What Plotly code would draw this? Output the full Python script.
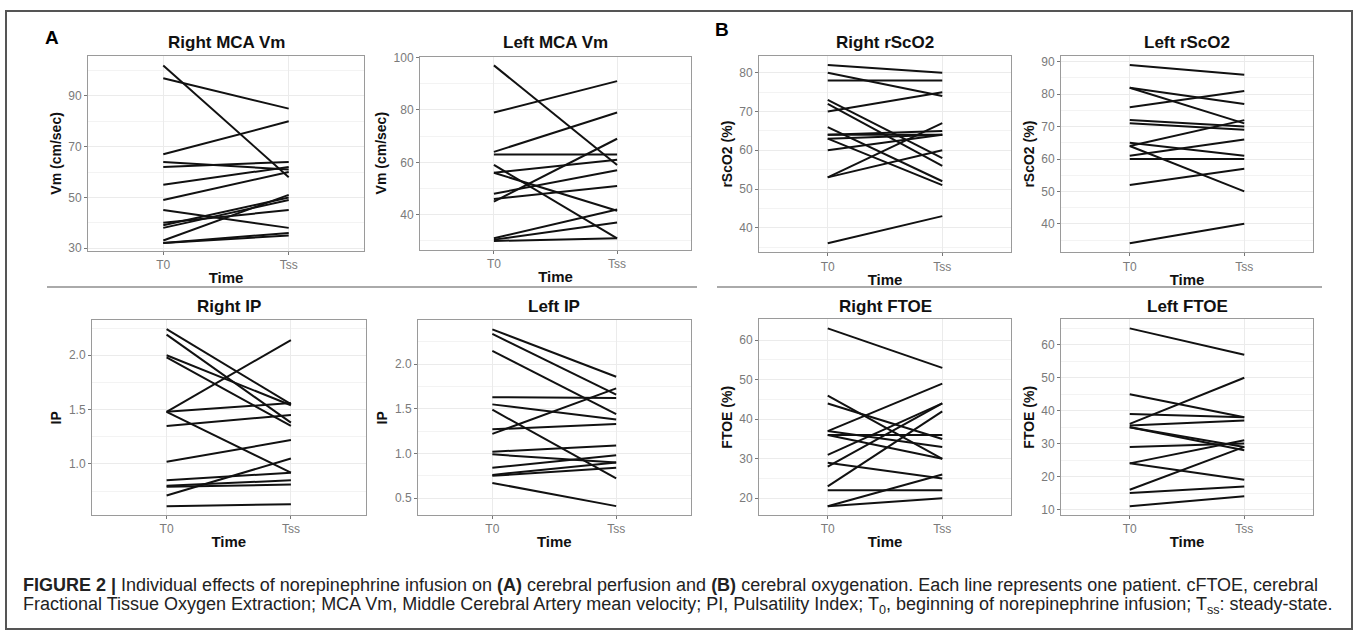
import plotly.graph_objects as go

W, H = 1358, 637

TIME_CATS = ["T0", "Tss"]

# ---- data ----
right_mca_t0 = [102, 97, 67, 64, 62, 55, 49, 45, 40, 39, 38, 33, 32, 32]
right_mca_tss = [58, 85, 80, 61, 64, 62, 60, 38, 45, 50, 49, 51, 36, 35]

left_mca_t0 = [97, 79, 64, 63, 59, 56, 56, 48, 46, 45, 31, 30.5, 30]
left_mca_tss = [59, 91, 79, 63, 31, 61, 41.5, 57, 51, 69, 42, 37, 31]

right_rsco2_t0 = [82, 80, 78, 73, 72, 70, 66, 64, 64, 63, 63, 60, 53, 53, 36]
right_rsco2_tss = [80, 74, 78, 58, 56, 75, 52, 65, 64, 51, 64, 64, 67, 60, 43]

left_rsco2_t0 = [89, 82, 82, 76, 72, 71, 65, 64, 64, 61, 60, 52, 34]
left_rsco2_tss = [86, 77, 71, 81, 70, 69, 61, 72, 50, 66, 60, 57, 40]

right_ip_t0 = [2.24, 2.19, 2.00, 1.98, 1.48, 1.48, 1.48, 1.35, 1.02, 0.85, 0.80, 0.79, 0.71, 0.61]
right_ip_tss = [1.55, 1.38, 1.54, 1.35, 2.14, 1.56, 0.92, 1.45, 1.22, 0.92, 0.85, 0.81, 1.05, 0.63]

left_ip_t0 = [2.39, 2.34, 2.15, 1.63, 1.55, 1.49, 1.27, 1.22, 1.02, 0.99, 0.84, 0.76, 0.75, 0.67]
left_ip_tss = [1.86, 1.66, 1.44, 1.62, 1.38, 0.72, 1.33, 1.73, 1.09, 0.90, 0.98, 0.90, 0.84, 0.41]

right_ftoe_t0 = [63, 46, 44, 37, 37, 36, 36, 31, 29, 28, 23, 22, 18, 18]
right_ftoe_tss = [53, 30, 35, 49, 33, 36, 30, 44, 25, 44, 42, 22, 26, 20]

left_ftoe_t0 = [65, 45, 39, 36, 35.5, 35, 35, 29, 24, 24, 16, 15, 11]
left_ftoe_tss = [57, 38, 38, 50, 37, 28, 29, 30, 31, 19, 29, 17, 14]

titles = ["Right MCA Vm", "Left MCA Vm", "Right rScO2", "Left rScO2",
          "Right IP", "Left IP", "Right FTOE", "Left FTOE"]
ylabels = ["Vm (cm/sec)", "Vm (cm/sec)", "rScO2 (%)", "rScO2 (%)",
           "IP", "IP", "FTOE (%)", "FTOE (%)"]
series = [(right_mca_t0, right_mca_tss), (left_mca_t0, left_mca_tss),
          (right_rsco2_t0, right_rsco2_tss), (left_rsco2_t0, left_rsco2_tss),
          (right_ip_t0, right_ip_tss), (left_ip_t0, left_ip_tss),
          (right_ftoe_t0, right_ftoe_tss), (left_ftoe_t0, left_ftoe_tss)]

# ---- layout (pixel boxes: x0, x1, ytop, ybottom) ----
boxes = [(88, 364, 51, 249), (420, 691, 51.5, 248), (759, 1011, 51, 250.5), (1061, 1313, 51, 250.5),
         (92, 365.5, 320, 518), (418, 690.5, 320, 518), (759, 1011, 319, 518), (1061, 1313, 319, 518)]
yranges = [[29.0, 105.7], [26.65, 100.35], [33.7, 84.3], [31.25, 91.75],
           [0.53, 2.32], [0.31, 2.49], [15.75, 65.25], [8.3, 67.7]]
yticks = [(30, 20), (40, 20), (40, 10), (40, 10), (1.0, 0.5), (0.5, 0.5), (20, 10), (10, 10)]
yfmt = ["d", "d", "d", "d", ".1f", ".1f", "d", "d"]


def px_x(p):
    return p / W


def px_y(p):
    return 1 - p / H


FAM = "Liberation Sans, Arial, sans-serif"
fig = go.Figure()
GRID = "#ebebeb"
MINOR = "#f3f3f3"
BORDER = "#9a9a9a"
TICKFONT = dict(family=FAM, size=12, color="#7a7a7a")
YTITLEFONT = dict(family=FAM, size=14, color="#111111")
XTITLEFONT = dict(family=FAM, size=15, color="#111111")

layout = {}
annotations = []
for i, (t0, tss) in enumerate(series):
    k = "" if i == 0 else str(i + 1)
    x0, x1, yt, yb = boxes[i]
    for a, b in zip(t0, tss):
        fig.add_trace(go.Scatter(x=TIME_CATS, y=[a, b], mode="lines",
                                 line=dict(color="#111111", width=2),
                                 xaxis="x" + k, yaxis="y" + k,
                                 showlegend=False, hoverinfo="skip"))
    layout["xaxis" + k] = dict(
        domain=[px_x(x0), px_x(x1)], anchor="y" + k, type="category",
        categoryorder="array", categoryarray=TIME_CATS,
        range=[-0.6, 1.6], showgrid=True, gridcolor=GRID, gridwidth=1,
        showline=True, mirror=True, linecolor=BORDER, linewidth=1,
        ticks="outside", ticklen=3, tickcolor="#777", tickfont=TICKFONT,
        title=dict(text="<b>Time</b>", font=XTITLEFONT, standoff=1),
        zeroline=False, fixedrange=True)
    t0v, dt = yticks[i]
    layout["yaxis" + k] = dict(
        domain=[px_y(yb), px_y(yt)], anchor="x" + k, range=yranges[i],
        tick0=t0v, dtick=dt, tickformat=yfmt[i],
        showgrid=True, gridcolor=GRID, gridwidth=1,
        minor=dict(dtick=dt / 2, tick0=t0v, showgrid=True, gridcolor=MINOR, gridwidth=1),
        showline=True, mirror=True, linecolor=BORDER, linewidth=1,
        ticks="outside", ticklen=3, tickcolor="#777", tickfont=TICKFONT,
        title=dict(text="<b>" + ylabels[i] + "</b>", font=YTITLEFONT, standoff=3),
        zeroline=False, fixedrange=True)
    ty = 37 if i < 4 else 306
    annotations.append(dict(text="<b>" + titles[i] + "</b>", xref="paper", yref="paper",
                            x=px_x((x0 + x1) / 2), y=px_y(ty), xanchor="center", yanchor="middle",
                            showarrow=False, font=dict(family=FAM, size=17, color="#111")))

annotations.append(dict(text="<b>A</b>", xref="paper", yref="paper", x=px_x(52), y=px_y(32),
                        xanchor="center", yanchor="middle", showarrow=False,
                        font=dict(family=FAM, size=19, color="#000")))
annotations.append(dict(text="<b>B</b>", xref="paper", yref="paper", x=px_x(722), y=px_y(24),
                        xanchor="center", yanchor="middle", showarrow=False,
                        font=dict(family=FAM, size=19, color="#000")))

caption_lines = [
    "<b>FIGURE 2 |</b> Individual effects of norepinephrine infusion on <b>(A)</b> cerebral perfusion "
    "and <b>(B)</b> cerebral oxygenation. Each line represents one patient. cFTOE, cerebral",
    "Fractional Tissue Oxygen Extraction; MCA Vm, Middle Cerebral Artery mean velocity; PI, "
    "Pulsatility Index; T<sub>0</sub>, beginning of norepinephrine infusion; T<sub>ss</sub>: steady-state.",
]
for j, line in enumerate(caption_lines):
    annotations.append(dict(text=line, xref="paper", yref="paper", x=px_x(21), y=px_y(589 + 21 * j),
                            xanchor="left", yanchor="middle", align="left", showarrow=False,
                            font=dict(family=FAM, size=18, color="#222")))

shapes = [
    dict(type="rect", xref="paper", yref="paper", x0=px_x(6), x1=px_x(1352), y0=px_y(634), y1=px_y(5),
         line=dict(color="#555", width=2), fillcolor="rgba(0,0,0,0)"),
    dict(type="line", xref="paper", yref="paper", x0=px_x(47), x1=px_x(697), y0=px_y(286), y1=px_y(286),
         line=dict(color="#aaaaaa", width=2)),
    dict(type="line", xref="paper", yref="paper", x0=px_x(717), x1=px_x(1322), y0=px_y(286), y1=px_y(286),
         line=dict(color="#aaaaaa", width=2)),
]

fig.update_layout(width=W, height=H, margin=dict(l=0, r=0, t=0, b=0),
                  paper_bgcolor="white", plot_bgcolor="white",
                  annotations=annotations, shapes=shapes, **layout)

fig.write_html("out.html", config={"displayModeBar": False},
               post_script="document.body.style.margin='0';document.body.style.overflow='hidden';")
